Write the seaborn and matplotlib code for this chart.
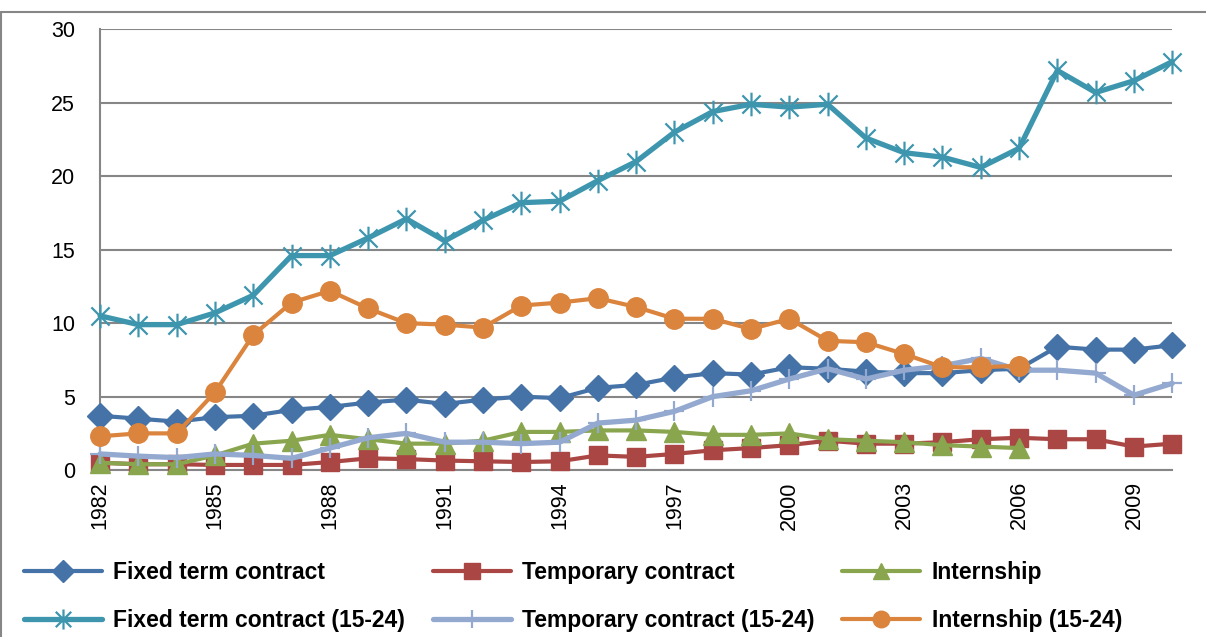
import numpy as np
import pandas as pd
import matplotlib
matplotlib.use("Agg")
import matplotlib.pyplot as plt
from matplotlib.lines import Line2D
from matplotlib.path import Path
import seaborn as sns

# === Data ===
years = list(range(1982, 2011))
years_short = list(range(1982, 2007))

fixed = [3.7, 3.5, 3.3, 3.6, 3.7, 4.1, 4.3, 4.6, 4.8, 4.5, 4.8, 5.0, 4.9, 5.6, 5.8,
         6.3, 6.6, 6.5, 7.0, 6.9, 6.7, 6.6, 6.6, 6.8, 6.9, 8.4, 8.2, 8.2, 8.5]
temporary = [0.5, 0.4, 0.4, 0.35, 0.35, 0.35, 0.55, 0.8, 0.75, 0.65, 0.6, 0.55, 0.6, 1.0, 0.9,
             1.1, 1.35, 1.5, 1.7, 2.0, 1.8, 1.8, 1.9, 2.1, 2.2, 2.1, 2.1, 1.6, 1.8]
internship = [0.5, 0.4, 0.4, 1.0, 1.8, 2.0, 2.4, 2.1, 1.8, 1.8, 2.0, 2.6, 2.6, 2.7, 2.7,
              2.6, 2.4, 2.4, 2.5, 2.1, 2.0, 1.9, 1.7, 1.6, 1.5]
fixed_young = [10.5, 9.9, 9.9, 10.7, 11.9, 14.6, 14.6, 15.8, 17.1, 15.6, 17.0, 18.2, 18.3, 19.7, 21.0,
               23.0, 24.4, 24.9, 24.7, 24.9, 22.6, 21.6, 21.3, 20.6, 21.9, 27.2, 25.7, 26.5, 27.8]
temporary_young = [1.1, 0.95, 0.85, 1.1, 1.0, 0.8, 1.5, 2.2, 2.5, 1.9, 1.9, 1.8, 1.9, 3.2, 3.4,
                   4.0, 5.0, 5.4, 6.2, 6.9, 6.2, 6.8, 7.1, 7.6, 6.8, 6.8, 6.6, 5.1, 5.9]
internship_young = [2.3, 2.5, 2.5, 5.3, 9.2, 11.4, 12.2, 11.0, 10.0, 9.9, 9.7, 11.2, 11.4, 11.7, 11.1,
                    10.3, 10.3, 9.6, 10.3, 8.8, 8.7, 7.9, 7.0, 7.0, 7.1]

labels = ["Fixed term contract", "Temporary contract", "Internship",
          "Fixed term contract (15-24)", "Temporary contract (15-24)", "Internship (15-24)"]

# Excel-style star: an X with a vertical stroke through it
star = Path([(-1, -1), (1, 1), (-1, 1), (1, -1), (0, -1.3), (0, 1.3)],
            [Path.MOVETO, Path.LINETO, Path.MOVETO, Path.LINETO, Path.MOVETO, Path.LINETO])

series = [
    (labels[0], years, fixed, "#4572A7", "D", 13, 3.0),
    (labels[1], years, temporary, "#AA4643", "s", 13, 3.0),
    (labels[2], years_short, internship, "#89A54E", "^", 14, 3.0),
    (labels[3], years, fixed_young, "#3D96AE", star, 17, 3.8),
    (labels[4], years, temporary_young, "#93A9CF", "+", 15, 3.8),
    (labels[5], years_short, internship_young, "#DB843D", "o", 14, 3.0),
]

sns.set_style("white")
plt.rcParams["font.family"] = ["Liberation Sans", "DejaVu Sans"]

fig = plt.figure(figsize=(12.06, 6.37), dpi=100)
ax = fig.add_axes([0.083, 0.262, 0.889, 0.692])

handles = {}
for name, xs, ys, col, mk, ms, lw in series:
    thin = mk is star or mk == "+"
    df = pd.DataFrame({"year": xs, "value": ys})
    sns.lineplot(data=df, x="year", y="value", ax=ax, color=col, lw=lw,
                 marker=mk, markersize=ms, markeredgecolor=col,
                 markeredgewidth=1.6 if thin else 1, clip_on=False, zorder=3)
    handles[name] = Line2D([], [], color=col, lw=lw, marker=mk, markersize=ms * 0.85,
                           markeredgecolor=col, markeredgewidth=1.6 if thin else 1)

ax.set_xlim(1982, 2010)
ax.set_ylim(0, 30)
ax.set_yticks(range(0, 31, 5))
ax.set_xticks(range(1982, 2011, 3))
ax.set_xticks(range(1982, 2011, 6), minor=True)
ax.set_xticklabels([str(y) for y in range(1982, 2011, 3)], rotation=90, fontsize=15.5)
ax.tick_params(axis="x", which="major", length=0, pad=8, labelcolor="black")
ax.tick_params(axis="x", which="minor", length=7, width=1.5, color="#868686", direction="out")
ax.tick_params(axis="y", length=7, width=1.5, color="#868686", direction="out",
               labelsize=15.5, pad=11, labelcolor="black")
ax.yaxis.grid(True, color="#868686", lw=1.5)
ax.xaxis.grid(False)
ax.set_axisbelow(True)
ax.set_xlabel("")
ax.set_ylabel("")
for s in ("top", "right"):
    ax.spines[s].set_visible(False)
for s in ("left", "bottom"):
    ax.spines[s].set_color("#868686")
    ax.spines[s].set_linewidth(1.5)

# legend: 2 rows x 3 columns, read row-wise
order = [labels[0], labels[3], labels[1], labels[4], labels[2], labels[5]]
leg = fig.legend([handles[k] for k in order], order, loc="center left",
                 bbox_to_anchor=(0.02, 0.063), ncol=3, frameon=False,
                 prop={"weight": "bold", "size": 16.5}, handlelength=3.4, handletextpad=0.5,
                 columnspacing=1.2, labelspacing=1.1, borderpad=0, borderaxespad=0)
for t in leg.get_texts():
    t.set_color("black")

# outer chart border
fig.add_artist(Line2D([0.001, 0.001], [0, 1 - 12 / 637], color="#868686", lw=1.5,
                      transform=fig.transFigure))
fig.add_artist(Line2D([0.001, 1], [1 - 12 / 637, 1 - 12 / 637], color="#868686", lw=1.5,
                      transform=fig.transFigure))

fig.savefig("out.png", dpi=100)
